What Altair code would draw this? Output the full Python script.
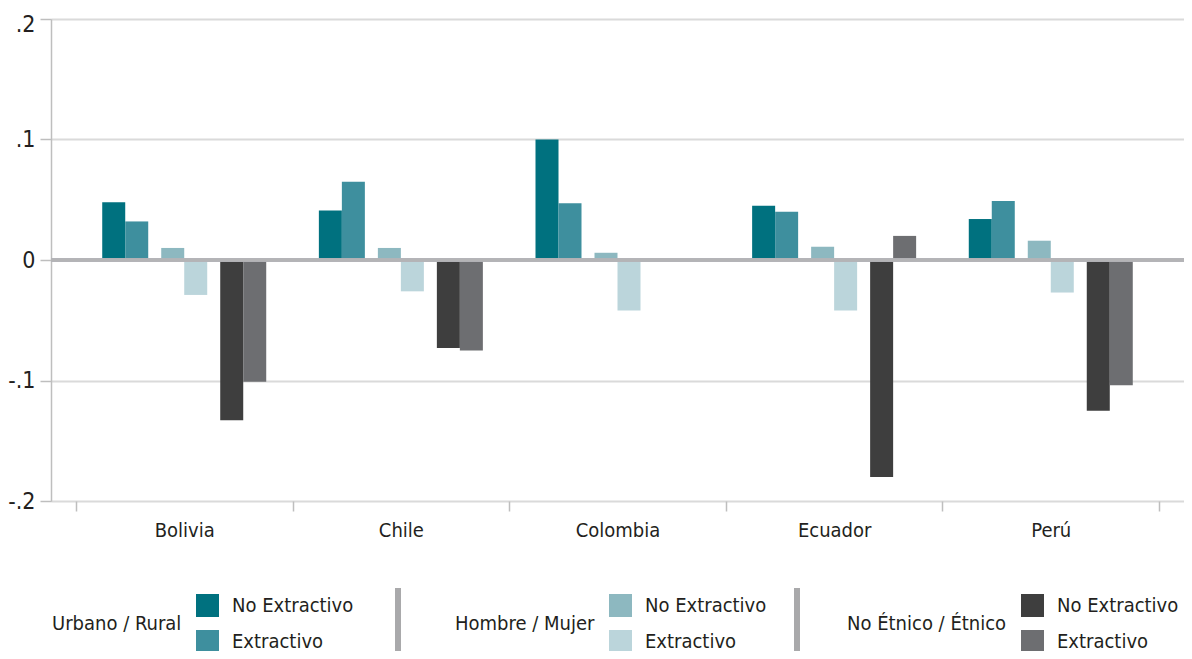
import altair as alt
import pandas as pd

paises = ["Bolivia", "Chile", "Colombia", "Ecuador", "Perú"]
ur_no_ext = [0.048, 0.041, 0.100, 0.045, 0.034]
ur_ext = [0.032, 0.065, 0.047, 0.040, 0.049]
hm_no_ext = [0.010, 0.010, 0.006, 0.011, 0.016]
hm_ext = [-0.029, -0.026, -0.042, -0.042, -0.027]
ne_no_ext = [-0.133, -0.073, None, -0.180, -0.125]
ne_ext = [-0.101, -0.075, None, 0.020, -0.104]

series_names = ["No Extractivo", "Extractivo"]
group_titles = ["Urbano / Rural", "Hombre / Mujer", "No Étnico / Étnico"]
group_values = [(ur_no_ext, ur_ext), (hm_no_ext, hm_ext), (ne_no_ext, ne_ext)]
group_colors = [("#00717F", "#3E8F9E"), ("#8DB8C0", "#BBD5DB"), ("#3E3E3E", "#6D6E71")]

FONT = "DejaVu Sans Condensed"
TEXT = "#231F20"

rows = []
for g, (vn, ve) in zip(group_titles, group_values):
    for s, vals in zip(series_names, (vn, ve)):
        for p, v in zip(paises, vals):
            rows.append({"pais": p, "grupo": g, "serie": s, "valor": v})
df = pd.DataFrame(rows)

x_enc = alt.X(
    "pais:N", sort=paises, title=None,
    scale=alt.Scale(domain=paises, paddingInner=0, paddingOuter=0.115),
    axis=alt.Axis(domain=False, ticks=True, tickBand="extent", tickExtra=False,
                  tickColor="#BEBEBE", tickWidth=1.5, tickSize=10, labelPadding=9,
                  labelAngle=0, labelFontSize=20, labelColor=TEXT, labelFont=FONT,
                  grid=False),
)
y_enc = alt.Y(
    "valor:Q", title=None,
    scale=alt.Scale(domain=[-0.2, 0.2], nice=False),
    axis=alt.Axis(values=[-0.2, -0.1, 0, 0.1, 0.2],
                  labelExpr="datum.value > 0.15 ? '.2' : datum.value > 0.05 ? '.1' : datum.value > -0.05 ? '0' : datum.value > -0.15 ? '-.1' : '-.2'",
                  labelOffset={"condition": {"test": "datum.value > 0.15", "value": 5}, "value": 0},
                  grid=True, gridColor="#DADADA", gridWidth=2,
                  domain=True, domainColor="#BEBEBE", domainWidth=1.5,
                  tickColor="#BEBEBE", tickWidth=1.5, tickSize=11, labelPadding=5,
                  labelFontSize=23, labelColor=TEXT, labelFont=FONT),
)

base = alt.Chart(df)
offsets = [(-70.5, -47.5), (-11.5, 11.5), (47.5, 70.5)]
legend_x = [1, 404, 796]

group_layers = []
for gi, g in enumerate(group_titles):
    legend = alt.Legend(
        title=g, orient="none", legendX=legend_x[gi], legendY=575,
        titleOrient="left", titleAnchor="middle", titleBaseline="middle",
        titlePadding=14, titleFontSize=20, titleFontWeight="normal", titleColor=TEXT,
        titleFont=FONT, labelFontSize=20, labelColor=TEXT, labelFont=FONT,
        labelOffset=13, symbolType="square", symbolSize=529, symbolStrokeWidth=0,
        symbolOpacity=1, rowPadding=13, padding=0, direction="vertical",
    )
    color = alt.Color("serie:N",
                      scale=alt.Scale(domain=series_names, range=list(group_colors[gi])),
                      legend=legend)
    sub = []
    for si, s in enumerate(series_names):
        sub.append(
            base.transform_filter((alt.datum.grupo == g) & (alt.datum.serie == s))
            .mark_bar(width=23, xOffset=offsets[gi][si])
            .encode(x=x_enc, y=y_enc, color=color)
        )
    group_layers.append(alt.layer(*sub))

zero = alt.Chart(df).mark_rule(color="#B4B4B6", strokeWidth=2.5).encode(y=alt.datum(0))
seps = [
    alt.Chart(df).mark_rule(color="#A9A9AB", strokeWidth=5).encode(
        x=alt.value(xv), y=alt.value(569), y2=alt.value(632))
    for xv in (347, 746)
]

chart = (
    alt.layer(*group_layers, zero, *seps)
    .resolve_scale(color="independent")
    .properties(width=1133, height=482,
                autosize=alt.AutoSizeParams(type="none"),
                padding={"left": 43, "top": 11, "right": 0, "bottom": 150})
    .configure_view(stroke=None)
    .configure(font=FONT)
)

chart.save("out.html", embed_options={"renderer": "svg", "actions": False})
